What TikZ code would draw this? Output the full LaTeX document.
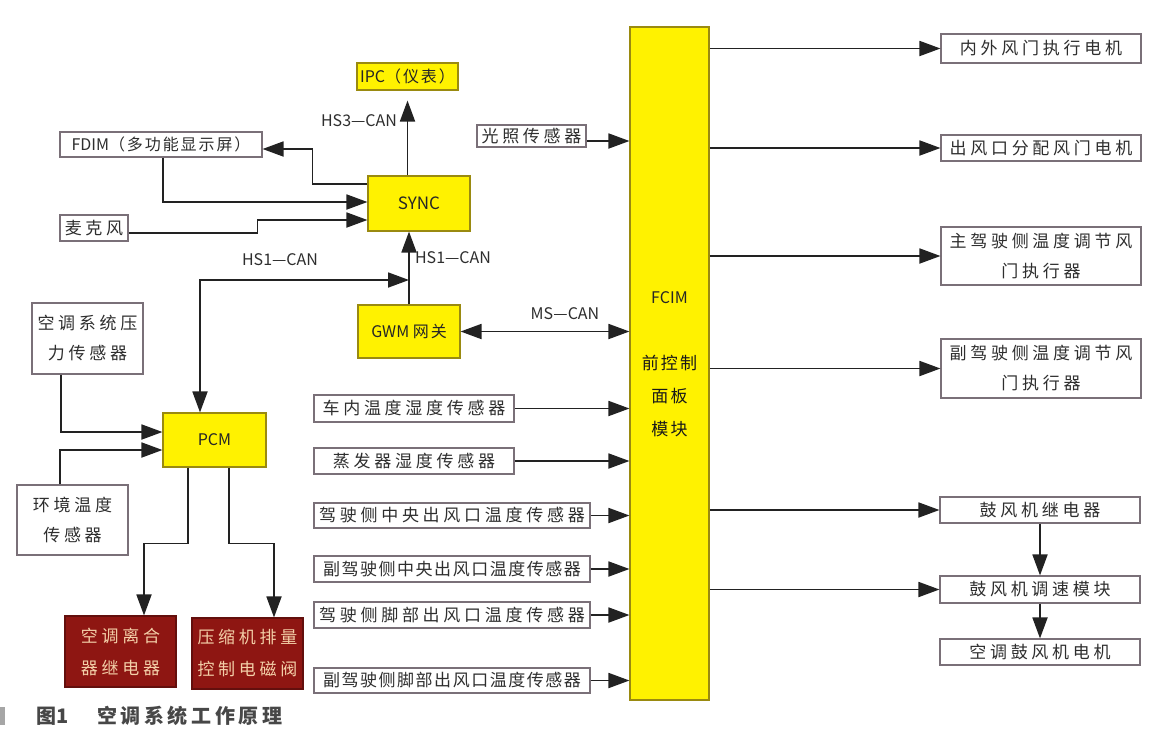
\documentclass[tikz,border=0pt]{standalone}
\usepackage{fontspec}
\setmainfont{Noto Sans CJK SC}
\newfontfamily\cnsp[LetterSpace=22]{Noto Sans CJK SC}
\newfontfamily\cnnar[LetterSpace=9]{Noto Sans CJK SC}
\newfontfamily\cnmid[LetterSpace=12]{Noto Sans CJK SC}
\newfontfamily\cncap[LetterSpace=18]{Noto Sans CJK SC}
\usetikzlibrary{arrows.meta}
\definecolor{ybox}{HTML}{FFF200}
\definecolor{yborder}{HTML}{9A8A10}
\definecolor{rbox}{HTML}{8E1612}
\definecolor{rtext}{HTML}{F3CFA8}
\definecolor{wborder}{HTML}{7A7078}
\definecolor{ink}{HTML}{2E2E2E}
\definecolor{lineink}{HTML}{222222}
\begin{document}
\begin{tikzpicture}[x=1pt,y=-1pt,
 wbox/.style={draw=wborder, line width=1.1pt, fill=white, inner sep=0pt, text=ink, font=\cnsp\fontsize{17}{30}\selectfont, align=center},
 yelbox/.style={draw=yborder, line width=1.1pt, fill=ybox, inner sep=0pt, text=black!85, font=\fontsize{15}{18}\selectfont},
 redbox/.style={draw=rbox!70!black, line width=1.1pt, fill=rbox, inner sep=0pt, text=rtext, font=\cnsp\fontsize{17}{32}\selectfont, align=center},
 arr/.style={draw=lineink, line width=1.8pt, -{Triangle[length=21pt,width=15pt]}},
 darr/.style={draw=lineink, line width=1.8pt, {Triangle[length=21pt,width=15pt]}-{Triangle[length=21pt,width=15pt]}},
 lab/.style={inner sep=0pt, text=ink, font=\fontsize{16}{18}\selectfont}]
\useasboundingbox (0,0) rectangle (1161,744);
\fill[white] (0,0) rectangle (1161,744);

% yellow modules
\node[yelbox, minimum width=101pt, minimum height=27pt, font=\fontsize{16}{18}\selectfont] (IPC) at (407.5,76.5) {IPC{\cnmid（仪表）}};
\node[yelbox, minimum width=102pt, minimum height=55pt, font=\fontsize{17}{18}\selectfont] (SYNC) at (419,203.5) {SYNC};
\node[yelbox, minimum width=102pt, minimum height=53pt, font=\fontsize{16}{18}\selectfont] (GWM) at (409,331.5) {GWM {\cnmid 网关}};
\node[yelbox, minimum width=103pt, minimum height=54pt, font=\fontsize{16}{18}\selectfont] (PCM) at (214.5,440) {PCM};
\node[yelbox, minimum width=79pt, minimum height=673pt] (FCIM) at (669.5,363.5) {};
\node[inner sep=0pt, text=black!85, font=\fontsize{16}{18}\selectfont] (fcimA) at (669.5,298) {FCIM};
\node[inner sep=0pt, text=black!90, align=center, font=\cnmid\fontsize{17}{33}\selectfont] (fcimB) at (669.5,396) {前控制\\面板\\模块};

% left-top boxes
\node[wbox, minimum width=202pt, minimum height=25pt, font=\fontsize{16}{18}\selectfont] (FDIM) at (161,144.5) {FDIM{\cnmid（多功能显示屏）}};
\node[wbox, minimum width=68pt, minimum height=26pt] (MIC) at (94,228) {麦克风};
\node[wbox, minimum width=111pt, minimum height=71pt] (PS) at (87.5,338.5) {空调系统压\\力传感器};
\node[wbox, minimum width=111pt, minimum height=70pt] (AT) at (72.5,520) {环境温度\\传感器};
\node[redbox, minimum width=111pt, minimum height=71pt] (CL) at (120.5,651.5) {空调离合\\器继电器};
\node[redbox, minimum width=111pt, minimum height=71pt] (VA) at (247.5,653.5) {压缩机排量\\控制电磁阀};

% sensors into FCIM
\node[wbox, minimum width=109pt, minimum height=22pt] (LS) at (531.5,136) {光照传感器};
\node[wbox, minimum width=200pt, minimum height=27pt] (S1) at (414,408.5) {车内温度湿度传感器};
\node[wbox, minimum width=200pt, minimum height=26pt] (S2) at (414,461) {蒸发器湿度传感器};
\node[wbox, minimum width=276pt, minimum height=25pt] (S3) at (452,515.5) {驾驶侧中央出风口温度传感器};
\node[wbox, minimum width=276pt, minimum height=26pt, font=\cnnar\fontsize{17}{30}\selectfont] (S4) at (452,569) {副驾驶侧中央出风口温度传感器};
\node[wbox, minimum width=276pt, minimum height=26pt] (S5) at (452,615) {驾驶侧脚部出风口温度传感器};
\node[wbox, minimum width=276pt, minimum height=25pt, font=\cnnar\fontsize{17}{30}\selectfont] (S6) at (452,680.5) {副驾驶侧脚部出风口温度传感器};

% actuators
\node[wbox, minimum width=200pt, minimum height=29pt] (R1) at (1041,48.5) {内外风门执行电机};
\node[wbox, minimum width=200pt, minimum height=26pt] (R2) at (1041,148) {出风口分配风门电机};
\node[wbox, minimum width=200pt, minimum height=58pt] (R3) at (1041,256) {主驾驶侧温度调节风\\门执行器};
\node[wbox, minimum width=200pt, minimum height=59pt] (R4) at (1041,368.5) {副驾驶侧温度调节风\\门执行器};
\node[wbox, minimum width=200pt, minimum height=26pt] (R5) at (1040,510) {鼓风机继电器};
\node[wbox, minimum width=200pt, minimum height=27pt] (R6) at (1040,589.5) {鼓风机调速模块};
\node[wbox, minimum width=200pt, minimum height=26pt] (R7) at (1040,652) {空调鼓风机电机};

% bus labels
\node[lab] (L1) at (359,121) {HS3—CAN};
\node[lab] (L2) at (280,260) {HS1—CAN};
\node[lab] (L3) at (453,258) {HS1—CAN};
\node[lab] (L4) at (565,314) {MS—CAN};

% connectors
\draw[arr] (SYNC.north -| IPC.south) -- ([yshift=-10pt]IPC.south);
\draw[arr] ([yshift=19.5pt]SYNC.west) -- ++(-55,0) |- ([yshift=-4.5pt]FDIM.east);
\draw[arr] ([xshift=2pt]FDIM.south) |- ([yshift=1.5pt]SYNC.west);
\draw[arr] ([yshift=-5pt]MIC.east) -- ++(129,0) |- ([yshift=-16.5pt]SYNC.west);
\draw[arr] (GWM.north) -- (GWM.north |- SYNC.south);
\coordinate (J) at (GWM.north |- 0,280);
\draw[darr] (J) -| ([xshift=-14.5pt]PCM.north);
\draw[darr] (GWM.east) -- (GWM.east -| FCIM.west);
\draw[arr] ([xshift=-26.5pt]PS.south) |- ([yshift=8pt]PCM.west);
\draw[arr] ([xshift=-12.5pt]AT.north) |- ([yshift=-10pt]PCM.west);
\draw[arr] ([xshift=-26.5pt]PCM.south) -- ++(0,76) -| ([xshift=23.5pt]CL.north);
\draw[arr] ([xshift=14.5pt]PCM.south) -- ++(0,76) -| ([xshift=26.5pt]VA.north);

\draw[arr] ([yshift=-5pt]LS.east) -- ([yshift=-5pt]LS.east -| FCIM.west);
\foreach \s in {S1,S2,S3,S4,S5,S6}
  \draw[arr] (\s.east) -- (\s.east -| FCIM.west);
\foreach \r in {R1,R2,R3,R4,R5,R6}
  \draw[arr] (FCIM.east |- \r.west) -- (\r.west);
\draw[arr] (R5.south) -- (R6.north);
\draw[arr] (R6.south) -- (R7.north);

% caption
\fill[black!35] (0,707) rectangle (5,725);
\node[anchor=west, inner sep=0pt, text=black!72, font=\bfseries\fontsize{20}{22}\selectfont] (cap1) at (36,716) {图1};
\node[anchor=west, inner sep=0pt, text=black!72, font=\cncap\bfseries\fontsize{20}{22}\selectfont] (cap2) at (97,716) {空调系统工作原理};
\end{tikzpicture}
\end{document}
